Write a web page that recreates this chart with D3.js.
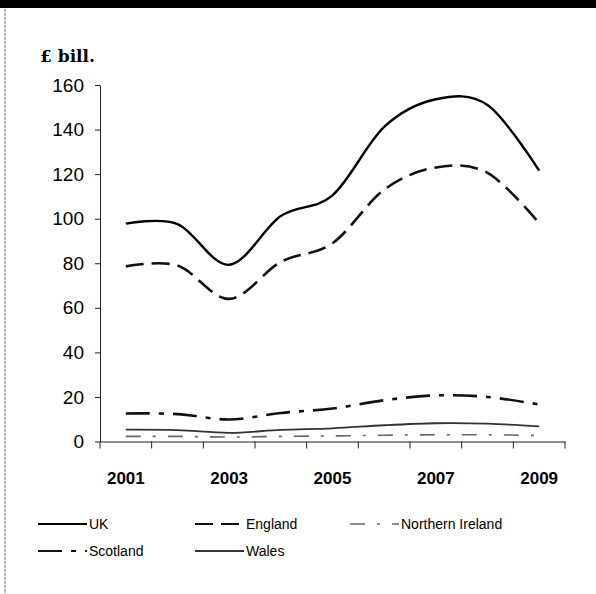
<!DOCTYPE html>
<html>
<head>
<meta charset="utf-8">
<script src="https://cdn.jsdelivr.net/npm/d3@7"></script>
<style>
  html, body { margin: 0; padding: 0; background: #fff; }
  svg { display: block; }
  text { font-family: "Liberation Sans", Arial, sans-serif; fill: #000; }
</style>
</head>
<body>
<script>
// Regional values, £ billion
const years = ["2001","2002","2003","2004","2005","2006","2007","2008","2009"];
const labelYears = ["2001","2003","2005","2007","2009"];
const yTicks = [0, 20, 40, 60, 80, 100, 120, 140, 160];

const uk       = [97.8, 97.6, 79.3, 101.2, 110.5, 141.2, 153.6, 151.0, 121.6];
const england  = [78.6, 79.0, 64.0, 80.6, 89.0, 113.0, 123.0, 120.6, 98.0];
const northIre = [2.3, 2.3, 2.0, 2.3, 2.5, 2.8, 3.0, 3.0, 2.7];
const scotland = [12.6, 12.3, 9.9, 12.8, 14.8, 18.5, 20.7, 20.0, 16.6];
const wales    = [5.3, 5.1, 3.9, 5.2, 5.9, 7.3, 8.2, 8.0, 6.8];

const seriesNames = ["UK", "England", "Northern Ireland", "Scotland", "Wales"];
const seriesValues = [uk, england, northIre, scotland, wales];

const styles = {
  "UK":               { stroke: "#000", width: 2.4, dash: null },
  "England":          { stroke: "#111", width: 2.6, dash: "18,8" },
  "Northern Ireland": { stroke: "#666", width: 1.6, dash: "15,12,3,12" },
  "Scotland":         { stroke: "#111", width: 2.6, dash: "24,9,5,9" },
  "Wales":            { stroke: "#333", width: 1.8, dash: null }
};

const W = 596, H = 594;
const svg = d3.select("body").append("svg").attr("width", W).attr("height", H);

// page frame: black band on top, dotted rule on the left
svg.append("rect").attr("x", 0).attr("y", 0).attr("width", W).attr("height", 8).attr("fill", "#000");
svg.append("line").attr("x1", 5).attr("x2", 5).attr("y1", 9).attr("y2", H)
  .attr("stroke", "#8c8c8c").attr("stroke-width", 1.3).attr("stroke-dasharray", "3,1");

const plot = { left: 100, right: 565, top: 85, bottom: 441.5 };

const x = d3.scaleBand().domain(years).range([plot.left, plot.right]).padding(0);
const y = d3.scaleLinear().domain([0, 160]).range([plot.bottom, plot.top]);

// unit label
svg.append("text").attr("x", 40).attr("y", 62)
  .style("font-family", "'DejaVu Serif', serif").style("font-weight", "bold").style("font-size", "17px")
  .text("£ bill.");

// y axis
const yAxis = svg.append("g").attr("transform", `translate(${plot.left},0)`)
  .call(d3.axisLeft(y).tickValues(yTicks).tickSize(5).tickPadding(11).tickSizeOuter(0));
yAxis.select(".domain").attr("stroke", "#222");
yAxis.selectAll(".tick line").attr("stroke", "#222");
yAxis.selectAll("text").style("font-size", "19px").style("font-family", "'Liberation Sans', Arial, sans-serif");

// x axis: line, boundary ticks, labels on odd years
const xAxis = svg.append("g").attr("transform", `translate(0,${plot.bottom})`)
  .call(d3.axisBottom(x).tickValues(labelYears).tickSize(0).tickPadding(30));
xAxis.select(".domain").attr("stroke", "#222");
xAxis.selectAll("text").style("font-size", "17px").style("font-weight", "bold")
  .style("font-family", "'Liberation Sans', Arial, sans-serif");

const edges = years.map(d => x(d)).concat([x(years[years.length - 1]) + x.bandwidth()]);
svg.append("g").selectAll("line").data(edges).join("line")
  .attr("x1", d => d).attr("x2", d => d)
  .attr("y1", plot.bottom).attr("y2", plot.bottom + 7)
  .attr("stroke", "#222");

// series lines
const line = d3.line()
  .x((d, i) => x(years[i]) + x.bandwidth() / 2)
  .y(d => y(d))
  .curve(d3.curveCatmullRom.alpha(0));

const drawOrder = ["Northern Ireland", "Wales", "Scotland", "England", "UK"];
drawOrder.forEach(name => {
  const s = styles[name];
  svg.append("path")
    .datum(seriesValues[seriesNames.indexOf(name)])
    .attr("d", line)
    .attr("fill", "none")
    .attr("stroke", s.stroke)
    .attr("stroke-width", s.width)
    .attr("stroke-dasharray", s.dash);
});

// legend
const legendPos = [
  { name: "UK", x: 38, y: 524 },
  { name: "England", x: 195, y: 524 },
  { name: "Northern Ireland", x: 350, y: 524 },
  { name: "Scotland", x: 38, y: 551 },
  { name: "Wales", x: 195, y: 551 }
];
const legend = svg.append("g");
legendPos.forEach(p => {
  const s = styles[p.name];
  legend.append("line")
    .attr("x1", p.x).attr("x2", p.x + 49).attr("y1", p.y).attr("y2", p.y)
    .attr("stroke", s.stroke).attr("stroke-width", Math.min(s.width, 2))
    .attr("stroke-dasharray", s.dash);
  legend.append("text")
    .attr("x", p.x + 51).attr("y", p.y).attr("dy", "0.36em")
    .style("font-size", "14px")
    .text(p.name);
});
</script>
</body>
</html>
